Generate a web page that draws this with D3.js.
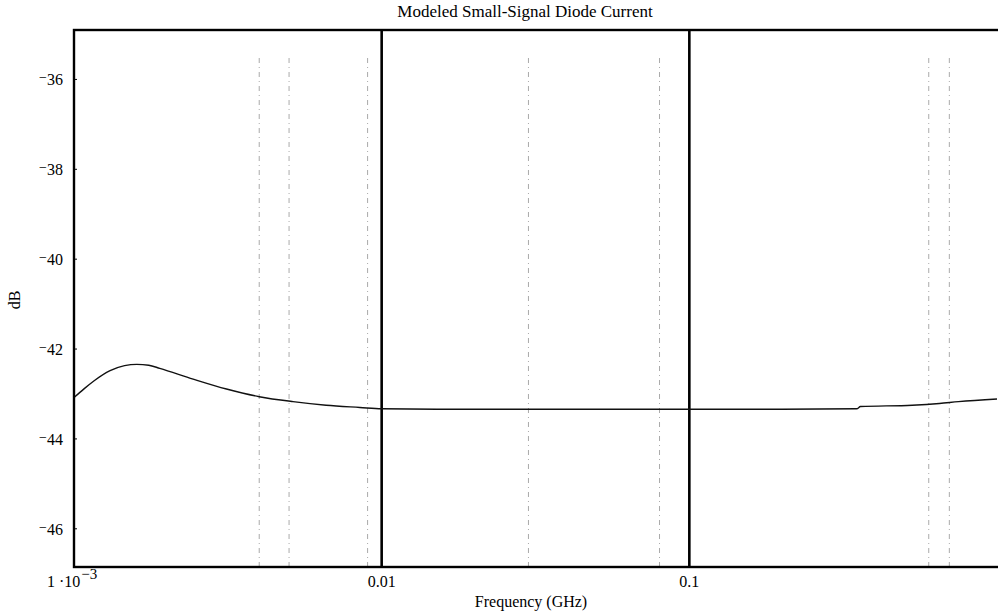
<!DOCTYPE html>
<html>
<head>
<meta charset="utf-8">
<title>Modeled Small-Signal Diode Current</title>
<style>
  html, body { margin: 0; padding: 0; background: #fff; }
  svg { display: block; font-family: "Liberation Serif", "DejaVu Serif", serif; }
  .frame { fill: none; stroke: #000; stroke-width: 2.4; }
  .decade { stroke: #000; stroke-width: 2.6; }
  .faint { stroke: #aaa; stroke-width: 1; stroke-dasharray: 5,4,1,4; }
  .trace { fill: none; stroke: #111; stroke-width: 1.4; }
</style>
</head>
<body>
<script src="https://cdn.jsdelivr.net/npm/d3@7/dist/d3.min.js"></script>
<script>
    // frequency samples (GHz) and modeled current (dB)
    var freq = [0.001, 0.00108, 0.00116, 0.00131, 0.00146, 0.0016, 0.00175, 0.0019, 0.00244, 0.00313,
                0.004, 0.00515, 0.0066, 0.0085, 0.01, 0.02, 0.05, 0.1, 0.2, 0.35,
                0.36, 0.53, 0.65, 0.75, 1.0];
    var dB = [-43.08, -42.88, -42.71, -42.48, -42.37, -42.34, -42.36, -42.43, -42.67, -42.89,
              -43.06, -43.17, -43.25, -43.30, -43.33, -43.34, -43.34, -43.34, -43.34, -43.33,
              -43.28, -43.25, -43.21, -43.17, -43.11];

    // axis ticks
    var yTicks = [-36, -38, -40, -42, -44, -46];
    var decadeLines = [0.01, 0.1];
    // faint dashed grid traces left in the scan
    var faintGrid = [0.004, 0.005, 0.009, 0.03, 0.08, 0.6, 0.7];

    var W = 998, H = 614;
    // plot box (window.top is reserved, so use a margin object)
    var box = {left: 74, right: 997, top: 30, bottom: 567};

    var x = d3.scaleLog().domain([0.001, 1]).range([box.left, box.right]);
    var y = d3.scaleLinear().domain([-46.85, -34.9]).range([box.bottom, box.top]);

    var svg = d3.select("body").append("svg")
        .attr("width", W)
        .attr("height", H);

    // faint dashed lines
    svg.selectAll(".faint")
        .data(faintGrid)
        .enter().append("line")
        .attr("class", "faint")
        .attr("x1", function(d) { return x(d); })
        .attr("x2", function(d) { return x(d); })
        .attr("y1", box.top + 28)
        .attr("y2", box.bottom);

    // heavy decade lines
    svg.selectAll(".decade")
        .data(decadeLines)
        .enter().append("line")
        .attr("class", "decade")
        .attr("x1", function(d) { return x(d); })
        .attr("x2", function(d) { return x(d); })
        .attr("y1", box.top)
        .attr("y2", box.bottom);

    // the trace
    var line = d3.line()
        .x(function(d, i) { return x(freq[i]); })
        .y(function(d) { return y(d); })
        .curve(d3.curveMonotoneX);

    svg.append("path")
        .datum(dB)
        .attr("class", "trace")
        .attr("d", line);

    // frame
    svg.append("rect")
        .attr("class", "frame")
        .attr("x", box.left)
        .attr("y", box.top)
        .attr("width", box.right - box.left + 4)
        .attr("height", box.bottom - box.top);

    // y tick labels, raised minus like the original
    var yl = svg.selectAll(".ylab")
        .data(yTicks)
        .enter().append("text")
        .attr("class", "ylab")
        .attr("x", 63)
        .attr("y", function(d) { return y(d) + 6; })
        .attr("text-anchor", "end")
        .style("font-size", "16px");
    yl.append("tspan")
        .attr("dy", -3)
        .style("font-size", "14px")
        .text("\u2212");
    yl.append("tspan")
        .attr("dy", 3)
        .text(function(d) { return Math.abs(d); });

    // small ticks on the left axis
    svg.selectAll(".ytick")
        .data(yTicks)
        .enter().append("line")
        .attr("x1", box.left)
        .attr("x2", box.left + 3)
        .attr("y1", function(d) { return y(d); })
        .attr("y2", function(d) { return y(d); })
        .attr("stroke", "#000");

    // x tick labels
    var xl = svg.append("text")
        .attr("x", 47)
        .attr("y", 587)
        .style("font-size", "16px");
    xl.append("tspan").text("1 \u00b710");
    xl.append("tspan")
        .attr("dy", -8)
        .attr("dx", 1)
        .style("font-size", "15px")
        .text("\u22123");

    svg.selectAll(".xlab")
        .data(decadeLines)
        .enter().append("text")
        .attr("x", function(d) { return x(d); })
        .attr("y", 587)
        .attr("text-anchor", "middle")
        .style("font-size", "16px")
        .text(function(d) { return d; });

    // titles
    svg.append("text")
        .attr("x", 525)
        .attr("y", 17)
        .attr("text-anchor", "middle")
        .style("font-size", "17px")
        .text("Modeled Small-Signal Diode Current");

    svg.append("text")
        .attr("x", 531)
        .attr("y", 607)
        .attr("text-anchor", "middle")
        .style("font-size", "16px")
        .text("Frequency (GHz)");

    svg.append("text")
        .attr("transform", "translate(20,300) rotate(-90)")
        .attr("text-anchor", "middle")
        .style("font-size", "16px")
        .text("dB");
</script>
</body>
</html>
